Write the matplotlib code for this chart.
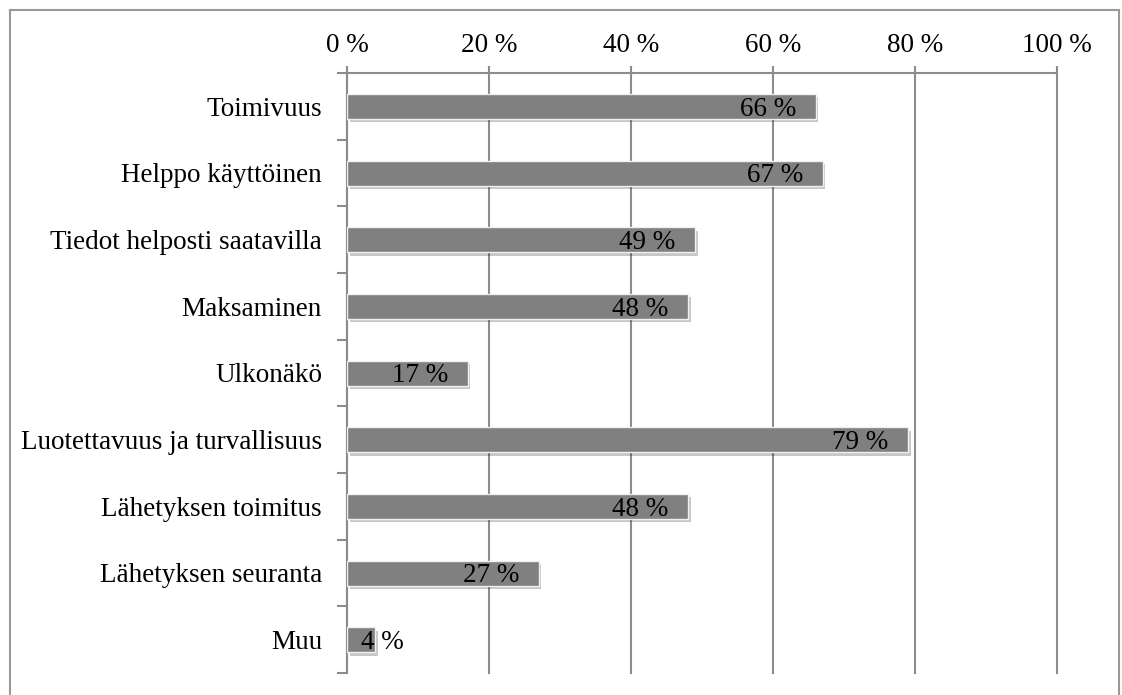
import matplotlib
matplotlib.use("Agg")
import matplotlib.pyplot as plt
import matplotlib.patheffects as pe
from matplotlib.lines import Line2D
from matplotlib.ticker import FixedLocator

categories = ["Toimivuus", "Helppo käyttöinen", "Tiedot helposti saatavilla",
              "Maksaminen", "Ulkonäkö", "Luotettavuus ja turvallisuus",
              "Lähetyksen toimitus", "Lähetyksen seuranta", "Muu"]
values = [66, 67, 49, 48, 17, 79, 48, 27, 4]
xticks = [0, 20, 40, 60, 80, 100]
xticklabels = ["0 %", "20 %", "40 %", "60 %", "80 %", "100 %"]

plt.rcParams['font.family'] = ['Liberation Serif', 'DejaVu Serif']
grey = "#8c8c8c"
fs = 19.5

fig = plt.figure(figsize=(11.22, 6.95), dpi=100)
W, H = 1122, 695
ax = fig.add_axes([347 / W, 1 - 673 / H, 710 / W, 600 / H])

ypos = list(range(len(categories)))
bars = ax.barh(ypos, values, height=0.375, color="#808080", edgecolor="#f0f0f0",
               linewidth=1.0, zorder=3)
for b in bars:
    b.set_path_effects([pe.SimplePatchShadow(offset=(2, -2.5), shadow_rgbFace="black", alpha=0.22),
                        pe.Normal()])

for y, v in zip(ypos, values):
    if v >= 10:
        ax.annotate(f"{v} %", xy=(v, y), xytext=(-14, -2), textcoords="offset points",
                    ha="right", va="center", fontsize=fs, color="black", zorder=5)
    else:
        ax.annotate(f"{v} %", xy=(0, y), xytext=(10, -2), textcoords="offset points",
                    ha="left", va="center", fontsize=fs, color="black", zorder=5)

ax.set_xlim(0, 100)
ax.set_ylim(len(categories) - 0.5, -0.5)

ax.xaxis.tick_top()
ax.set_xticks(xticks)
ax.set_xticklabels(xticklabels, fontsize=fs)
ax.tick_params(axis="x", which="major", length=5, width=1.5, color=grey, pad=6,
               top=True, bottom=False)
ax.xaxis.grid(True, color=grey, linewidth=1.5, zorder=0)
for gl in ax.get_xgridlines():
    gl.set_clip_on(False)

ax.set_yticks(ypos)
ax.set_yticklabels(categories, fontsize=fs)
ax.yaxis.set_minor_locator(FixedLocator([i - 0.5 for i in range(len(categories) + 1)]))
ax.tick_params(axis="y", which="major", length=0, pad=18)
ax.tick_params(axis="y", which="minor", length=7, width=1.5, color=grey)

for s in ["right", "bottom"]:
    ax.spines[s].set_visible(False)
for s in ["left", "top"]:
    ax.spines[s].set_color(grey)
    ax.spines[s].set_linewidth(1.5)
ax.set_axisbelow(True)

# outer frame (left, top, right)
x0, x1, yt = 10 / W, 1119 / W, 1 - 10 / H
for xs, ys in [([x0, x0], [0, yt]), ([x0, x1], [yt, yt]), ([x1, x1], [yt, 0])]:
    fig.add_artist(Line2D(xs, ys, color="#999999", linewidth=1.5, transform=fig.transFigure))

fig.savefig("out.png", dpi=100)
